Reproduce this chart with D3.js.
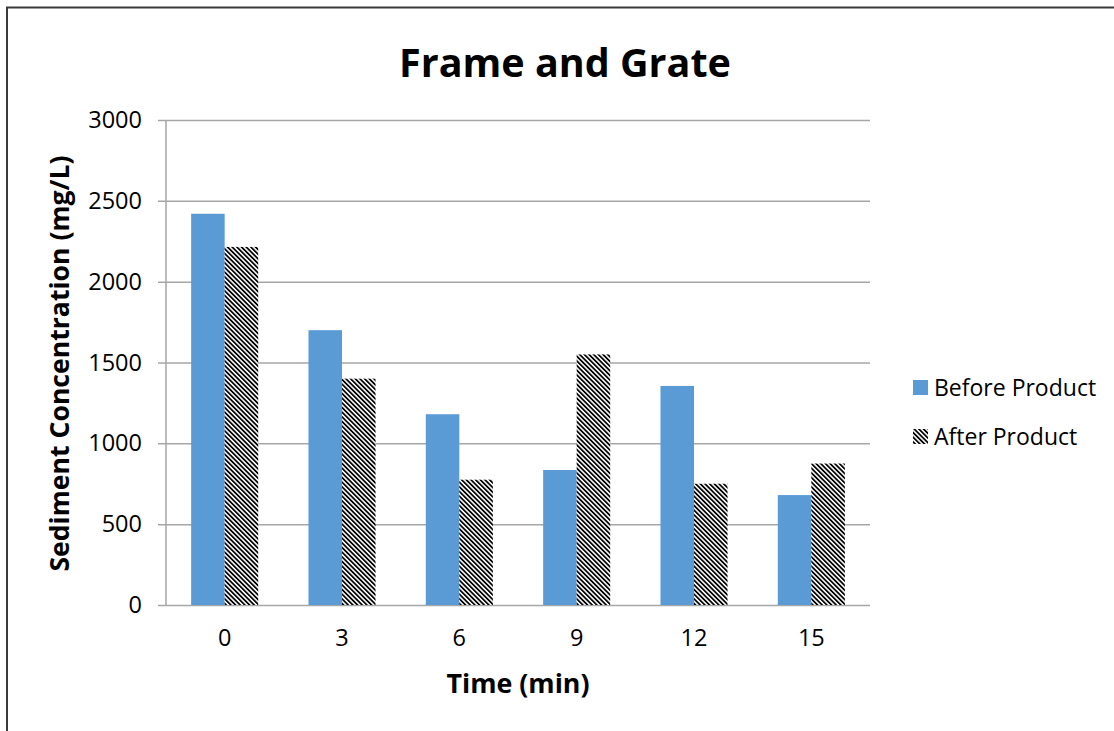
<!DOCTYPE html>
<html>
<head>
<meta charset="utf-8">
<script src="https://cdn.jsdelivr.net/npm/d3@7"></script>
<style>
  html, body { margin: 0; padding: 0; background: #fff; }
  svg { display: block; }
  text { font-family: "Open Sans", sans-serif; fill: #000; }
</style>
</head>
<body>
<svg id="chart" width="1114" height="731"></svg>
<script>
// Sediment concentration sampled over time, before and after the product
const times = ["0", "3", "6", "9", "12", "15"];
const seriesNames = ["Before Product", "After Product"];
const beforeValues = [2420, 1700, 1180, 835, 1355, 680];
const afterValues = [2215, 1400, 775, 1550, 750, 875];
const yTicks = [0, 500, 1000, 1500, 2000, 2500, 3000];

const svg = d3.select("#chart");

// hatch pattern for the second series
const defs = svg.append("defs");
const hatch = defs.append("pattern")
  .attr("id", "hatch")
  .attr("patternUnits", "userSpaceOnUse")
  .attr("width", 3.3)
  .attr("height", 10)
  .attr("patternTransform", "rotate(-45)");
hatch.append("rect").attr("width", 3.3).attr("height", 10).attr("fill", "#fff");
hatch.append("rect").attr("width", 1.75).attr("height", 10).attr("fill", "#000");

// outer frame
svg.append("rect")
  .attr("x", 7).attr("y", 7.5)
  .attr("width", 1200).attr("height", 800)
  .attr("fill", "none").attr("stroke", "#3a3a3a").attr("stroke-width", 2);

const plot = { left: 166, right: 870, top: 120, bottom: 605 };

const x = d3.scaleBand().domain(times).range([plot.left, plot.right]).padding(0);
const xInner = d3.scaleBand().domain(seriesNames).range([0, x.bandwidth()])
  .paddingInner(0).paddingOuter(0.75);
const y = d3.scaleLinear().domain([0, 3000]).range([plot.bottom, plot.top]);

// horizontal gridlines with left tick stubs
const yAxis = d3.axisLeft(y).tickValues(yTicks)
  .tickSize(-(plot.right - plot.left + 8)).tickPadding(16).tickFormat(d3.format("d"));
const gy = svg.append("g").attr("transform", `translate(${plot.left - 8},0)`).call(yAxis);
gy.select(".domain").remove();
gy.selectAll(".tick line").attr("stroke", "#a6a6a6").attr("stroke-width", 1.5);
gy.selectAll(".tick text").attr("font-size", 23.5).style("fill", "#000").attr("x", -16);

// bars
const rows = times.map((t, i) => ({ t, vals: [beforeValues[i], afterValues[i]] }));
const groups = svg.append("g").selectAll("g").data(rows).join("g")
  .attr("transform", d => `translate(${x(d.t)},0)`);
groups.selectAll("rect")
  .data(d => d.vals.map((v, j) => ({ s: seriesNames[j], v })))
  .join("rect")
  .attr("x", d => xInner(d.s))
  .attr("width", xInner.bandwidth())
  .attr("y", d => y(d.v))
  .attr("height", d => y(0) - y(d.v))
  .attr("fill", d => d.s === seriesNames[0] ? "#5b9bd5" : "url(#hatch)");

// y axis line
svg.append("line")
  .attr("x1", plot.left).attr("x2", plot.left)
  .attr("y1", plot.top).attr("y2", plot.bottom)
  .attr("stroke", "#a6a6a6").attr("stroke-width", 1.5);

// category labels
const xAxis = d3.axisBottom(x).tickSize(0).tickPadding(24);
const gx = svg.append("g").attr("transform", `translate(0,${plot.bottom})`).call(xAxis);
gx.select(".domain").remove();
gx.selectAll(".tick text").attr("font-size", 23.5).style("fill", "#000");

// titles
svg.append("text").attr("x", 565).attr("y", 77).attr("text-anchor", "middle")
  .attr("font-size", 39.5).attr("font-weight", "bold").text("Frame and Grate");
svg.append("text").attr("x", 518).attr("y", 693).attr("text-anchor", "middle")
  .attr("font-size", 26.8).attr("font-weight", "bold").text("Time (min)");
svg.append("text")
  .attr("transform", `translate(69,${(plot.top + plot.bottom) / 2 + 1}) rotate(-90)`)
  .attr("text-anchor", "middle")
  .attr("font-size", 26.6).attr("font-weight", "bold").text("Sediment Concentration (mg/L)");

// legend
const legend = svg.append("g").attr("transform", "translate(913,380)");
seriesNames.forEach((name, i) => {
  const g = legend.append("g").attr("transform", `translate(0,${i * 49})`);
  g.append("rect").attr("width", 15).attr("height", 15)
    .attr("fill", i === 0 ? "#5b9bd5" : "url(#hatch)");
  g.append("text").attr("x", 21).attr("y", 16).attr("font-size", 23).text(name);
});
</script>
</body>
</html>
